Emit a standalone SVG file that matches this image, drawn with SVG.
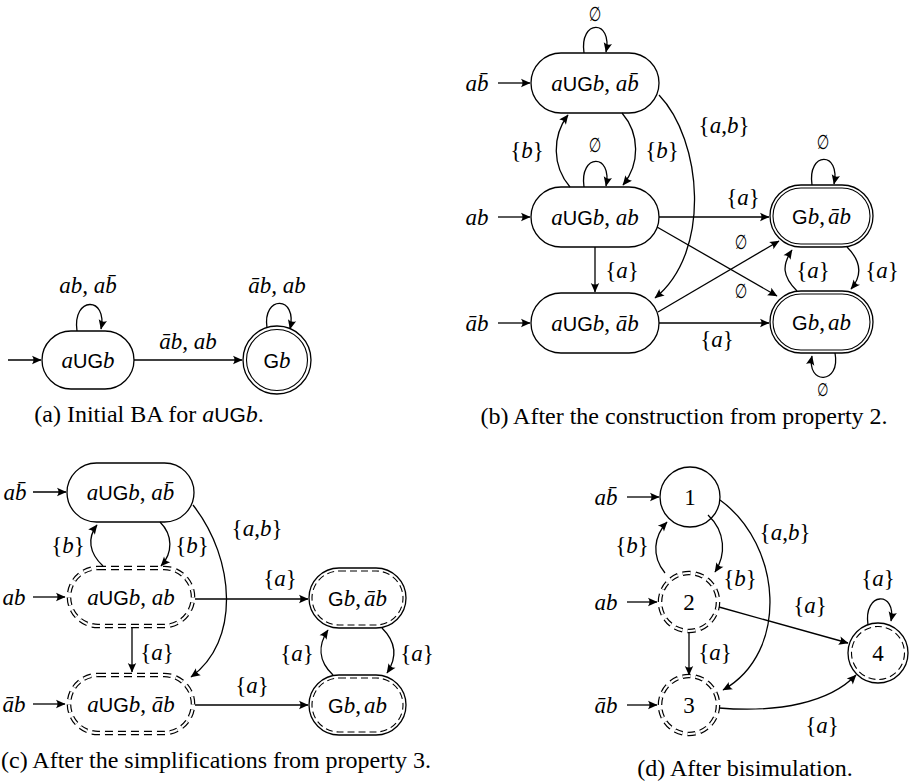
<svg xmlns="http://www.w3.org/2000/svg" width="912" height="784" viewBox="0 0 912 784">
  <defs>
    <marker id="ah" viewBox="-10 -5 11 10" refX="0" refY="0" markerWidth="11" markerHeight="10" markerUnits="userSpaceOnUse" orient="auto">
      <path d="M0.5,0 L-9,-4.2 Q-6,0 -9,4.2 Z" fill="#000"/>
    </marker>
    <style>
      .ln { fill: none; stroke: #000; stroke-width: 1.3; marker-end: url(#ah); }
      .nd { fill: #fff; stroke: #000; stroke-width: 1.3; }
      .in { fill: none; stroke: #000; stroke-width: 1.1; }
      .dsh { fill: none; stroke: #000; stroke-width: 1.1; stroke-dasharray: 7 4; }
      .dd1 { fill: #fff; stroke: #000; stroke-width: 4.6; stroke-dasharray: 8 5; }
      .dd2 { fill: none; stroke: #fff; stroke-width: 2.2; stroke-dasharray: 8 5; }
      text { font-family: "Liberation Serif", "Times New Roman", serif; font-size: 23px; text-anchor: middle; fill: #000; }
      .cap { font-size: 24px; }
      .i { font-family: "Liberation Serif", "Times New Roman", serif; font-style: italic; }
      .s { font-family: "Liberation Sans", Arial, sans-serif; font-style: normal; font-size: 20px; }
      .e { font-family: "DejaVu Sans", sans-serif; font-size: 20px; }
    </style>
  </defs>

  <!-- ===== (a) initial automaton ===== -->
  <g id="a-aUGb">
    <rect class="nd" x="42" y="331" width="92" height="58" rx="29"/>
    <text x="88" y="368"><tspan class="i">a</tspan><tspan class="s">UG</tspan><tspan class="i">b</tspan></text>
  </g>
  <g id="a-Gb">
    <circle class="nd" cx="277" cy="360" r="34"/>
    <circle class="in" cx="277" cy="360" r="30.5"/>
    <text x="277" y="368"><tspan class="s">G</tspan><tspan class="i">b</tspan></text>
  </g>
  <g id="a-edges">
    <path class="ln" d="M8,360 L41,360"/>
    <path class="ln" d="M134,360 L242,360"/>
    <path class="ln" d="M77,331 C72,296 108,296 101,329"/>
    <path class="ln" d="M267,328 C262,295 298,295 290,329"/>
    <text x="88" y="293" class="i">ab, ab̄</text>
    <text x="188" y="349" class="i">āb, ab</text>
    <text x="277" y="293" class="i">āb, ab</text>
  </g>
  <text class="cap" x="149" y="422">(a) Initial BA for <tspan class="i">a</tspan><tspan class="s" style="font-size:21px">UG</tspan><tspan class="i">b</tspan>.</text>

  <!-- ===== (b) after the construction ===== -->
  <g id="b-n1">
    <rect class="nd" x="531" y="53" width="128" height="60" rx="30"/>
    <text x="595" y="91"><tspan class="i">a</tspan><tspan class="s">UG</tspan><tspan class="i">b</tspan>, <tspan class="i">ab̄</tspan></text>
  </g>
  <g id="b-n2">
    <rect class="nd" x="531" y="187" width="128" height="60" rx="30"/>
    <text x="595" y="225"><tspan class="i">a</tspan><tspan class="s">UG</tspan><tspan class="i">b</tspan>, <tspan class="i">ab</tspan></text>
  </g>
  <g id="b-n3">
    <rect class="nd" x="531" y="293" width="128" height="60" rx="30"/>
    <text x="595" y="331"><tspan class="i">a</tspan><tspan class="s">UG</tspan><tspan class="i">b</tspan>, <tspan class="i">āb</tspan></text>
  </g>
  <g id="b-n4">
    <rect class="nd" x="770" y="185" width="103" height="62" rx="31"/>
    <rect class="in" x="773" y="188" width="97" height="56" rx="28"/>
    <text x="821.5" y="224"><tspan class="s">G</tspan><tspan class="i">b</tspan>,<tspan class="i" dx="3">āb</tspan></text>
  </g>
  <g id="b-n5">
    <rect class="nd" x="770" y="291" width="103" height="62" rx="31"/>
    <rect class="in" x="773" y="294" width="97" height="56" rx="28"/>
    <text x="821.5" y="330"><tspan class="s">G</tspan><tspan class="i">b</tspan>,<tspan class="i" dx="3">ab</tspan></text>
  </g>
  <g id="b-edges">
    <path class="ln" d="M498,83 L530,83"/>
    <path class="ln" d="M498,217 L530,217"/>
    <path class="ln" d="M498,323 L530,323"/>
    <path class="ln" d="M584,53 C579,19 613,19 606,52"/>
    <path class="ln" d="M584,187 C579,153 613,153 606,186"/>
    <path class="ln" d="M812,185 C807,151 841,151 834,184"/>
    <path class="ln" d="M835,353 C841,385 806,385 812,356"/>
    <path class="ln" d="M570,187 C552,166 552,136 568,115"/>
    <path class="ln" d="M622,113 C640,134 640,164 623,185"/>
    <path class="ln" d="M659,95 C702,140 712,252 655,298"/>
    <path class="ln" d="M595,247 L595,292"/>
    <path class="ln" d="M659,217 L769,217"/>
    <path class="ln" d="M657,227 L777,296"/>
    <path class="ln" d="M658,312 L779,241"/>
    <path class="ln" d="M659,323 L769,323"/>
    <path class="ln" d="M797,291 C782,276 782,265 792,250"/>
    <path class="ln" d="M847,247 C862,262 862,276 851,289"/>
    <text x="477" y="91" class="i">ab̄</text>
    <text x="477" y="225" class="i">ab</text>
    <text x="477" y="331" class="i">āb</text>
    <text class="e" transform="translate(595,21) scale(0.72,1)">∅</text>
    <text class="e" transform="translate(595,152) scale(0.72,1)">∅</text>
    <text class="e" transform="translate(823,149) scale(0.72,1)">∅</text>
    <text class="e" transform="translate(823,396) scale(0.72,1)" style="font-size:18px">∅</text>
    <text class="e" transform="translate(741,249) scale(0.72,1)">∅</text>
    <text class="e" transform="translate(741,298) scale(0.72,1)">∅</text>
    <text x="527" y="158">{<tspan class="i">b</tspan>}</text>
    <text x="662" y="158">{<tspan class="i">b</tspan>}</text>
    <text x="724" y="133">{<tspan class="i">a</tspan>,<tspan class="i">b</tspan>}</text>
    <text x="622" y="278">{<tspan class="i">a</tspan>}</text>
    <text x="743" y="205">{<tspan class="i">a</tspan>}</text>
    <text x="717" y="347">{<tspan class="i">a</tspan>}</text>
    <text x="813" y="278">{<tspan class="i">a</tspan>}</text>
    <text x="882" y="278">{<tspan class="i">a</tspan>}</text>
  </g>
  <text class="cap" x="684" y="424">(b) After the construction from property 2.</text>

  <!-- ===== (c) after the simplifications ===== -->
  <g id="c-n1">
    <rect class="nd" x="67" y="463" width="127" height="59" rx="29.5"/>
    <text x="130.5" y="500"><tspan class="i">a</tspan><tspan class="s">UG</tspan><tspan class="i">b</tspan>, <tspan class="i">ab̄</tspan></text>
  </g>
  <g id="c-n2">
    <rect class="dd1" x="69" y="568" width="124" height="58" rx="29"/>
    <rect class="dd2" x="69" y="568" width="124" height="58" rx="29"/>
    <text x="131" y="605"><tspan class="i">a</tspan><tspan class="s">UG</tspan><tspan class="i">b</tspan>, <tspan class="i">ab</tspan></text>
  </g>
  <g id="c-n3">
    <rect class="dd1" x="69" y="675" width="124" height="58" rx="29"/>
    <rect class="dd2" x="69" y="675" width="124" height="58" rx="29"/>
    <text x="131" y="712"><tspan class="i">a</tspan><tspan class="s">UG</tspan><tspan class="i">b</tspan>, <tspan class="i">āb</tspan></text>
  </g>
  <g id="c-n4">
    <rect class="nd" x="309" y="568" width="97" height="60" rx="30"/>
    <rect class="dsh" x="312" y="571" width="91" height="54" rx="27"/>
    <text x="357.5" y="606"><tspan class="s">G</tspan><tspan class="i">b</tspan>,<tspan class="i" dx="3">āb</tspan></text>
  </g>
  <g id="c-n5">
    <rect class="nd" x="309" y="675" width="97" height="60" rx="30"/>
    <rect class="dsh" x="312" y="678" width="91" height="54" rx="27"/>
    <text x="357.5" y="713"><tspan class="s">G</tspan><tspan class="i">b</tspan>,<tspan class="i" dx="3">ab</tspan></text>
  </g>
  <g id="c-edges">
    <path class="ln" d="M33,492 L66,492"/>
    <path class="ln" d="M33,597 L65,597"/>
    <path class="ln" d="M33,704 L65,704"/>
    <path class="ln" d="M103,566 C89,553 87,538 97,525"/>
    <path class="ln" d="M160,522 C173,535 173,553 161,566"/>
    <path class="ln" d="M193,505 C236,560 240,642 191,677"/>
    <path class="ln" d="M132,628 L132,672"/>
    <path class="ln" d="M195,599 L308,599"/>
    <path class="ln" d="M195,705 L308,705"/>
    <path class="ln" d="M333,675 C318,661 318,645 328,630"/>
    <path class="ln" d="M382,628 C397,643 397,658 387,673"/>
    <text x="15" y="500" class="i">ab̄</text>
    <text x="14" y="605" class="i">ab</text>
    <text x="14" y="712" class="i">āb</text>
    <text x="68" y="553">{<tspan class="i">b</tspan>}</text>
    <text x="192" y="553">{<tspan class="i">b</tspan>}</text>
    <text x="257" y="536">{<tspan class="i">a</tspan>,<tspan class="i">b</tspan>}</text>
    <text x="157" y="660">{<tspan class="i">a</tspan>}</text>
    <text x="280" y="586">{<tspan class="i">a</tspan>}</text>
    <text x="252" y="693">{<tspan class="i">a</tspan>}</text>
    <text x="297" y="661">{<tspan class="i">a</tspan>}</text>
    <text x="417" y="661">{<tspan class="i">a</tspan>}</text>
  </g>
  <text class="cap" x="216" y="768">(c) After the simplifications from property 3.</text>

  <!-- ===== (d) after bisimulation ===== -->
  <g id="d-n1">
    <circle class="nd" cx="690" cy="497" r="30"/>
    <text x="690" y="505">1</text>
  </g>
  <g id="d-n2">
    <circle class="dd1" cx="689" cy="602" r="29"/>
    <circle class="dd2" cx="689" cy="602" r="29"/>
    <text x="689" y="610">2</text>
  </g>
  <g id="d-n3">
    <circle class="dd1" cx="689" cy="705" r="29"/>
    <circle class="dd2" cx="689" cy="705" r="29"/>
    <text x="689" y="713">3</text>
  </g>
  <g id="d-n4">
    <circle class="nd" cx="878" cy="653" r="30"/>
    <circle class="dsh" cx="878" cy="653" r="26.5"/>
    <text x="878" y="661">4</text>
  </g>
  <g id="d-edges">
    <path class="ln" d="M627,497 L659,497"/>
    <path class="ln" d="M627,602 L657,602"/>
    <path class="ln" d="M627,705 L657,705"/>
    <path class="ln" d="M665,573 C651,556 654,536 667,522"/>
    <path class="ln" d="M708,515 C726,532 726,555 715,572"/>
    <path class="ln" d="M720,500 C782,545 790,652 723,690"/>
    <path class="ln" d="M689,633 L689,675"/>
    <path class="ln" d="M719,607 L848,643"/>
    <path class="ln" d="M719,708 C780,713 830,702 856,675"/>
    <path class="ln" d="M868,625 C863,591 897,591 891,621"/>
    <text x="606" y="505" class="i">ab̄</text>
    <text x="606" y="610" class="i">ab</text>
    <text x="606" y="713" class="i">āb</text>
    <text x="632" y="553">{<tspan class="i">b</tspan>}</text>
    <text x="740" y="586">{<tspan class="i">b</tspan>}</text>
    <text x="785" y="540">{<tspan class="i">a</tspan>,<tspan class="i">b</tspan>}</text>
    <text x="715" y="660">{<tspan class="i">a</tspan>}</text>
    <text x="810" y="613">{<tspan class="i">a</tspan>}</text>
    <text x="822" y="733">{<tspan class="i">a</tspan>}</text>
    <text x="878" y="586">{<tspan class="i">a</tspan>}</text>
  </g>
  <text class="cap" x="745" y="776">(d) After bisimulation.</text>
</svg>
